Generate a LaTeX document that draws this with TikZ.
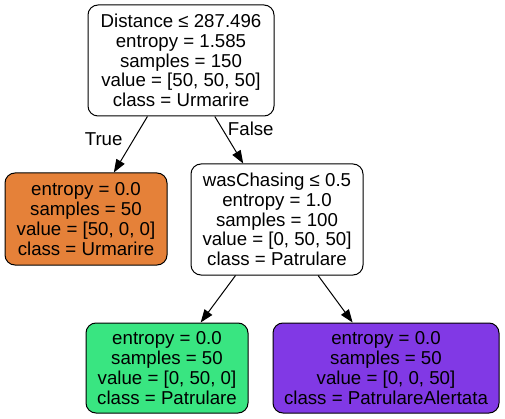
\documentclass[tikz,border=0pt]{standalone}
\usepackage{fontspec}
\setmainfont{Liberation Sans}
\usetikzlibrary{arrows.meta}
\definecolor{naranja}{HTML}{E58139}
\definecolor{verde}{HTML}{39E581}
\definecolor{morado}{HTML}{8139E5}
\begin{document}
\begin{tikzpicture}[x=1pt,y=-1pt,
    caja/.style={draw=black, line width=1pt, rounded corners=10pt, align=center,
        inner sep=0pt, font=\fontsize{18.67}{19.8}\selectfont},
    flecha/.style={line width=1pt, -{Triangle[length=13pt,width=9.5pt]}},
    etiqueta/.style={inner sep=0pt, font=\fontsize{18.67}{19.8}\selectfont}]
        \useasboundingbox (0,0) rectangle (505,419);

        % Nodos
        \node[caja, fill=white, minimum width=186pt, minimum height=111pt] (raiz) at (181,60.5)
            {Distance ≤ 287.496\\entropy = 1.585\\samples = 150\\value = [50, 50, 50]\\class = Urmarire};
        \node[caja, fill=naranja, minimum width=162pt, minimum height=92pt] (hojaA) at (86,219)
            {entropy = 0.0\\samples = 50\\value = [50, 0, 0]\\class = Urmarire};
        \node[caja, fill=white, minimum width=172pt, minimum height=111pt] (chasing) at (277,219.5)
            {wasChasing ≤ 0.5\\entropy = 1.0\\samples = 100\\value = [0, 50, 50]\\class = Patrulare};
        \node[caja, fill=verde, minimum width=162pt, minimum height=90pt] (hojaB) at (167,368)
            {entropy = 0.0\\samples = 50\\value = [0, 50, 0]\\class = Patrulare};
        \node[caja, fill=morado, minimum width=226pt, minimum height=90pt] (hojaC) at (386,368)
            {entropy = 0.0\\samples = 50\\value = [0, 0, 50]\\class = PatrulareAlertata};

        % Flechas
        \draw[flecha] (raiz) -- node[etiqueta, pos=0.4, left=11pt] {True} (hojaA);
        \draw[flecha] (raiz) -- node[etiqueta, pos=0.27, right=5pt] {False} (chasing);
        \draw[flecha] (chasing) -- (hojaB);
        \draw[flecha] (chasing) -- (hojaC);
    \end{tikzpicture}
\end{document}
